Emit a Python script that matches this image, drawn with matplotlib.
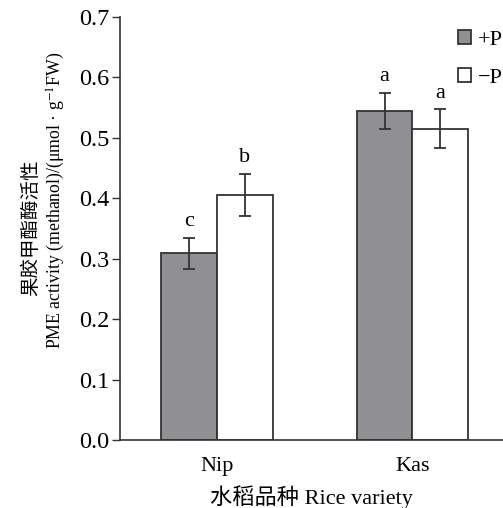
import matplotlib.pyplot as plt
import numpy as np

plt.rcParams['font.family'] = ['Liberation Serif', 'Noto Sans CJK SC']
plt.rcParams['font.size'] = 16
plt.rcParams['mathtext.fontset'] = 'stix'
plt.rcParams['axes.unicode_minus'] = True

# ------------------------------------------------------------------- data
varieties = ['Nip', 'Kas']
plus_p = [0.309, 0.545]
plus_p_err = [0.026, 0.030]
minus_p = [0.405, 0.515]
minus_p_err = [0.035, 0.032]
plus_p_letters = ['c', 'a']
minus_p_letters = ['b', 'a']

# ------------------------------------------------------------------- plot
fig = plt.figure(figsize=(5.03, 5.08), dpi=100)
ax = fig.add_axes([0.2386, 0.1339, 0.7614, 0.8326])

x = np.arange(len(varieties))
w = 0.2846
edge = '#333333'
grey = '#909094'

ax.bar(x - w/2, plus_p, w, color=grey, edgecolor=edge, lw=1.3, label='+P', zorder=2)
ax.bar(x + w/2, minus_p, w, color='white', edgecolor=edge, lw=1.3, label='\u2212P', zorder=2)

ekw = dict(fmt='none', ecolor=edge, elinewidth=1.3, capsize=4.5, capthick=1.3, zorder=3)
ax.errorbar(x - w/2, plus_p, yerr=plus_p_err, **ekw)
ax.errorbar(x + w/2, minus_p, yerr=minus_p_err, **ekw)

for xi, v, e, s in zip(x - w/2, plus_p, plus_p_err, plus_p_letters):
	ax.text(xi, v + e + 0.027, s, ha='center', va='center')
for xi, v, e, s in zip(x + w/2, minus_p, minus_p_err, minus_p_letters):
	ax.text(xi, v + e + 0.027, s, ha='center', va='center')

ax.set_ylim(0, 0.7)
ax.set_yticks(np.arange(0, 0.71, 0.1))
ax.set_yticklabels(['%.1f' % t for t in np.arange(0, 0.71, 0.1)], fontsize=17.5)
ax.set_xlim(-0.496, 1.463)
ax.set_xticks(x)
ax.set_xticklabels(varieties)
ax.tick_params(axis='x', length=0, pad=12)
ax.tick_params(axis='y', direction='out', length=5.5, width=1, color=edge, pad=2)

for sp in ['top', 'right']:
	ax.spines[sp].set_visible(False)
for sp in ['left', 'bottom']:
	ax.spines[sp].set_color(edge)
	ax.spines[sp].set_linewidth(1.2)

# y label as two separate lines
fig.text(0.0616, 0.551, '果胶甲酯酶活性', rotation=90, fontsize=14,
	ha='center', va='center')
fig.text(0.111, 0.606, 'PME activity (methanol)/(μmol · g$^{-1}$FW)', rotation=90,
	fontsize=12.8, ha='center', va='center')
ax.set_xlabel('水稻品种 Rice variety', labelpad=7)

ax.legend(loc='upper left', bbox_to_anchor=(0.858, 0.99), frameon=False,
	handlelength=0.6, handleheight=0.6, handletextpad=0.3, labelspacing=0.8,
	borderaxespad=0)

fig.savefig('out.png', dpi=100)
